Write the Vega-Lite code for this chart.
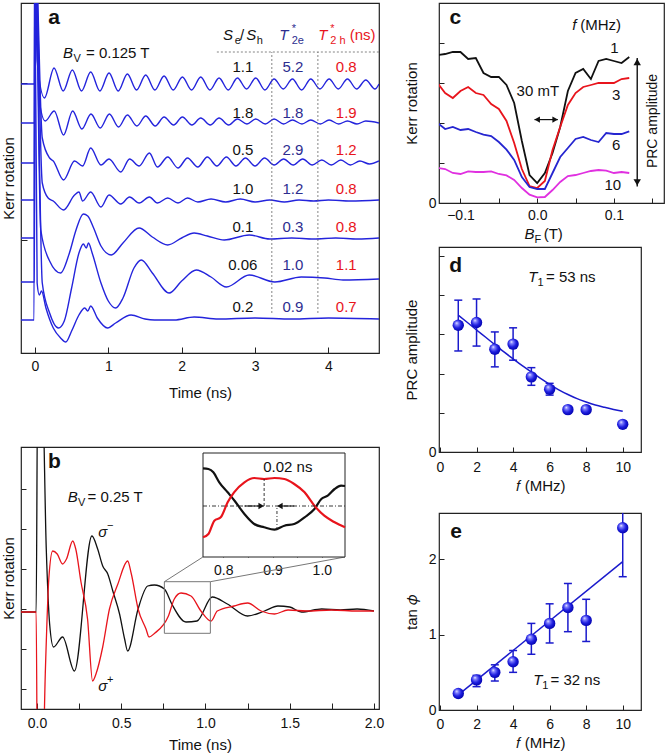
{
"$schema":"https://vega.github.io/schema/vega-lite/v6.json",
"padding":{"left":0,"top":2,"right":0,"bottom":0},
"config":{"font":"Liberation Sans","view":{"stroke":"#222","strokeWidth":1.2},
"axis":{"domain":false,"grid":false,"tickColor":"#222","tickWidth":1,"labelFont":"Liberation Sans","titleFont":"Liberation Sans","labelFontSize":14,"titleFontSize":15,"titleFontWeight":"normal","labelColor":"#111","titleColor":"#111"},
"text":{"font":"Liberation Sans"}},
"datasets":{
"a_tr":[
{"s":1,"x":-0.19,"y":269},{"s":1,"x":-0.006,"y":269},{"s":1,"x":0.0,"y":420},{"s":1,"x":0.03,"y":292},{"s":1,"x":0.13,"y":255},{"s":1,"x":0.26,"y":285},{"s":1,"x":0.385,"y":262},{"s":1,"x":0.51,"y":283},{"s":1,"x":0.635,"y":262},{"s":1,"x":0.76,"y":281},{"s":1,"x":0.885,"y":262},{"s":1,"x":1.01,"y":280},{"s":1,"x":1.135,"y":262},{"s":1,"x":1.26,"y":279},{"s":1,"x":1.385,"y":263},{"s":1,"x":1.51,"y":278},{"s":1,"x":1.635,"y":263},{"s":1,"x":1.76,"y":277},{"s":1,"x":1.885,"y":263},{"s":1,"x":2.01,"y":276},{"s":1,"x":2.135,"y":263},{"s":1,"x":2.26,"y":276},{"s":1,"x":2.385,"y":263},{"s":1,"x":2.51,"y":275},{"s":1,"x":2.635,"y":263},{"s":1,"x":2.76,"y":275},{"s":1,"x":2.885,"y":264},{"s":1,"x":3.01,"y":275},{"s":1,"x":3.135,"y":263},{"s":1,"x":3.26,"y":274},{"s":1,"x":3.385,"y":264},{"s":1,"x":3.51,"y":274},{"s":1,"x":3.635,"y":263},{"s":1,"x":3.76,"y":274},{"s":1,"x":3.885,"y":264},{"s":1,"x":4.01,"y":274},{"s":1,"x":4.135,"y":264},{"s":1,"x":4.26,"y":274},{"s":1,"x":4.385,"y":264},{"s":1,"x":4.51,"y":273},{"s":1,"x":4.635,"y":264},{"s":1,"x":4.69,"y":269},
{"s":2,"x":-0.19,"y":230},{"s":2,"x":-0.006,"y":230},{"s":2,"x":0.0,"y":420},{"s":2,"x":0.06,"y":252},{"s":2,"x":0.14,"y":232},{"s":2,"x":0.263,"y":242},{"s":2,"x":0.39,"y":218},{"s":2,"x":0.514,"y":242},{"s":2,"x":0.64,"y":224},{"s":2,"x":0.764,"y":239},{"s":2,"x":0.89,"y":225},{"s":2,"x":1.015,"y":239},{"s":2,"x":1.14,"y":226},{"s":2,"x":1.26,"y":238},{"s":2,"x":1.39,"y":227},{"s":2,"x":1.51,"y":237},{"s":2,"x":1.64,"y":227},{"s":2,"x":1.76,"y":236},{"s":2,"x":1.89,"y":228},{"s":2,"x":2.01,"y":236},{"s":2,"x":2.14,"y":228},{"s":2,"x":2.26,"y":235},{"s":2,"x":2.39,"y":228},{"s":2,"x":2.51,"y":235},{"s":2,"x":2.64,"y":228},{"s":2,"x":2.76,"y":234},{"s":2,"x":2.89,"y":229},{"s":2,"x":3.01,"y":234},{"s":2,"x":3.14,"y":229},{"s":2,"x":3.26,"y":234},{"s":2,"x":3.39,"y":229},{"s":2,"x":3.51,"y":233},{"s":2,"x":3.64,"y":229},{"s":2,"x":3.76,"y":233},{"s":2,"x":3.89,"y":229},{"s":2,"x":4.01,"y":233},{"s":2,"x":4.14,"y":229},{"s":2,"x":4.26,"y":232},{"s":2,"x":4.39,"y":229},{"s":2,"x":4.51,"y":232},{"s":2,"x":4.69,"y":230},
{"s":3,"x":-0.19,"y":190},{"s":3,"x":-0.006,"y":190},{"s":3,"x":0.0,"y":420},{"s":3,"x":0.1,"y":215},{"s":3,"x":0.2,"y":195},{"s":3,"x":0.25,"y":192},{"s":3,"x":0.39,"y":173},{"s":3,"x":0.54,"y":192},{"s":3,"x":0.65,"y":187},{"s":3,"x":0.76,"y":205},{"s":3,"x":0.9,"y":188},{"s":3,"x":1.01,"y":194},{"s":3,"x":1.17,"y":181},{"s":3,"x":1.29,"y":194},{"s":3,"x":1.42,"y":187},{"s":3,"x":1.56,"y":200},{"s":3,"x":1.67,"y":186},{"s":3,"x":1.81,"y":196},{"s":3,"x":1.95,"y":185},{"s":3,"x":2.08,"y":195},{"s":3,"x":2.22,"y":186},{"s":3,"x":2.35,"y":196},{"s":3,"x":2.48,"y":187},{"s":3,"x":2.61,"y":196},{"s":3,"x":2.74,"y":187},{"s":3,"x":2.87,"y":195},{"s":3,"x":3.0,"y":187},{"s":3,"x":3.13,"y":195},{"s":3,"x":3.26,"y":188},{"s":3,"x":3.39,"y":194},{"s":3,"x":3.52,"y":188},{"s":3,"x":3.65,"y":194},{"s":3,"x":3.78,"y":188},{"s":3,"x":3.91,"y":193},{"s":3,"x":4.04,"y":188},{"s":3,"x":4.17,"y":193},{"s":3,"x":4.3,"y":188},{"s":3,"x":4.43,"y":192},{"s":3,"x":4.56,"y":189},{"s":3,"x":4.69,"y":192},
{"s":4,"x":-0.19,"y":153},{"s":4,"x":-0.006,"y":153},{"s":4,"x":0.0,"y":420},{"s":4,"x":0.1,"y":170},{"s":4,"x":0.18,"y":155},{"s":4,"x":0.25,"y":152},{"s":4,"x":0.39,"y":143},{"s":4,"x":0.54,"y":158},{"s":4,"x":0.6,"y":161},{"s":4,"x":0.65,"y":152},{"s":4,"x":0.76,"y":161},{"s":4,"x":0.9,"y":146},{"s":4,"x":1.01,"y":158},{"s":4,"x":1.17,"y":149},{"s":4,"x":1.29,"y":156},{"s":4,"x":1.42,"y":150},{"s":4,"x":1.56,"y":156},{"s":4,"x":1.67,"y":150},{"s":4,"x":1.81,"y":155},{"s":4,"x":1.95,"y":150},{"s":4,"x":2.08,"y":155},{"s":4,"x":2.22,"y":151},{"s":4,"x":2.4,"y":154},{"s":4,"x":2.6,"y":151},{"s":4,"x":2.8,"y":154},{"s":4,"x":3.0,"y":151},{"s":4,"x":3.2,"y":153},{"s":4,"x":3.4,"y":151},{"s":4,"x":3.6,"y":153},{"s":4,"x":3.8,"y":152},{"s":4,"x":4.0,"y":153},{"s":4,"x":4.3,"y":152},{"s":4,"x":4.69,"y":153},
{"s":5,"x":-0.19,"y":115},{"s":5,"x":-0.006,"y":115},{"s":5,"x":0.0,"y":420},{"s":5,"x":0.08,"y":123},{"s":5,"x":0.2,"y":92},{"s":5,"x":0.35,"y":80},{"s":5,"x":0.47,"y":100},{"s":5,"x":0.56,"y":123},{"s":5,"x":0.66,"y":139},{"s":5,"x":0.72,"y":137},{"s":5,"x":0.8,"y":125},{"s":5,"x":0.9,"y":107},{"s":5,"x":1.04,"y":98},{"s":5,"x":1.2,"y":110},{"s":5,"x":1.42,"y":125},{"s":5,"x":1.6,"y":116},{"s":5,"x":1.81,"y":108},{"s":5,"x":2.0,"y":115},{"s":5,"x":2.17,"y":120},{"s":5,"x":2.35,"y":117},{"s":5,"x":2.58,"y":113},{"s":5,"x":2.92,"y":118},{"s":5,"x":3.2,"y":114},{"s":5,"x":3.5,"y":115},{"s":5,"x":3.8,"y":114},{"s":5,"x":4.1,"y":115},{"s":5,"x":4.4,"y":114},{"s":5,"x":4.69,"y":115},
{"s":6,"x":-0.19,"y":71},{"s":6,"x":-0.006,"y":71},{"s":6,"x":0.0,"y":420},{"s":6,"x":0.1,"y":70},{"s":6,"x":0.2,"y":40},{"s":6,"x":0.32,"y":25},{"s":6,"x":0.4,"y":32},{"s":6,"x":0.5,"y":65},{"s":6,"x":0.6,"y":100},{"s":6,"x":0.66,"y":109},{"s":6,"x":0.7,"y":105},{"s":6,"x":0.73,"y":110},{"s":6,"x":0.78,"y":100},{"s":6,"x":0.9,"y":70},{"s":6,"x":1.0,"y":52},{"s":6,"x":1.1,"y":45},{"s":6,"x":1.2,"y":55},{"s":6,"x":1.35,"y":85},{"s":6,"x":1.45,"y":93},{"s":6,"x":1.6,"y":80},{"s":6,"x":1.83,"y":60},{"s":6,"x":2.0,"y":72},{"s":6,"x":2.2,"y":83},{"s":6,"x":2.4,"y":76},{"s":6,"x":2.61,"y":66},{"s":6,"x":2.92,"y":78},{"s":6,"x":3.27,"y":71},{"s":6,"x":3.63,"y":76},{"s":6,"x":3.95,"y":75},{"s":6,"x":4.2,"y":73},{"s":6,"x":4.69,"y":74},
{"s":7,"x":-0.19,"y":33},{"s":7,"x":-0.012,"y":33},{"s":7,"x":-0.006,"y":420},{"s":7,"x":0.03,"y":70},{"s":7,"x":0.06,"y":58},{"s":7,"x":0.09,"y":62},{"s":7,"x":0.15,"y":45},{"s":7,"x":0.25,"y":25},{"s":7,"x":0.35,"y":15},{"s":7,"x":0.42,"y":11},{"s":7,"x":0.5,"y":22},{"s":7,"x":0.6,"y":38},{"s":7,"x":0.68,"y":45},{"s":7,"x":0.72,"y":42},{"s":7,"x":0.76,"y":47},{"s":7,"x":0.85,"y":35},{"s":7,"x":0.99,"y":25},{"s":7,"x":1.1,"y":30},{"s":7,"x":1.31,"y":38},{"s":7,"x":1.5,"y":34},{"s":7,"x":1.63,"y":33},{"s":7,"x":1.9,"y":33},{"s":7,"x":2.17,"y":36},{"s":7,"x":2.5,"y":34},{"s":7,"x":3.0,"y":35},{"s":7,"x":3.5,"y":34},{"s":7,"x":4.0,"y":35},{"s":7,"x":4.69,"y":34}
],
"a_tab":[
{"c":"k","x":2.834,"y":285.7,"tx":"1.1"},{"c":"b","x":3.516,"y":285.7,"tx":"5.2"},{"c":"r","x":4.243,"y":285.7,"tx":"0.8"},
{"c":"k","x":2.834,"y":240.3,"tx":"1.8"},{"c":"b","x":3.516,"y":240.3,"tx":"1.8"},{"c":"r","x":4.243,"y":240.3,"tx":"1.9"},
{"c":"k","x":2.834,"y":203,"tx":"0.5"},{"c":"b","x":3.516,"y":203,"tx":"2.9"},{"c":"r","x":4.243,"y":203,"tx":"1.2"},
{"c":"k","x":2.834,"y":163.7,"tx":"1.0"},{"c":"b","x":3.516,"y":163.7,"tx":"1.2"},{"c":"r","x":4.243,"y":163.7,"tx":"0.8"},
{"c":"k","x":2.834,"y":126.3,"tx":"0.1"},{"c":"b","x":3.516,"y":126.3,"tx":"0.3"},{"c":"r","x":4.243,"y":126.3,"tx":"0.8"},
{"c":"k","x":2.834,"y":88,"tx":"0.06"},{"c":"b","x":3.516,"y":88,"tx":"1.0"},{"c":"r","x":4.243,"y":88,"tx":"1.1"},
{"c":"k","x":2.834,"y":46.3,"tx":"0.2"},{"c":"b","x":3.516,"y":46.3,"tx":"0.9"},{"c":"r","x":4.243,"y":46.3,"tx":"0.7"}
],
"b_tr":[
{"p":"σ−","x":-0.095,"y":97},{"p":"σ−","x":-0.005,"y":97},{"p":"σ−","x":0.004,"y":330},{"p":"σ−","x":0.03,"y":330},{"p":"σ−","x":0.055,"y":160},{"p":"σ−","x":0.075,"y":85},{"p":"σ−","x":0.098,"y":62},{"p":"σ−","x":0.152,"y":72},{"p":"σ−","x":0.222,"y":38},{"p":"σ−","x":0.326,"y":173},{"p":"σ−","x":0.36,"y":160},{"p":"σ−","x":0.39,"y":143},{"p":"σ−","x":0.42,"y":135},{"p":"σ−","x":0.45,"y":118},{"p":"σ−","x":0.49,"y":95},{"p":"σ−","x":0.52,"y":70},{"p":"σ−","x":0.538,"y":58},{"p":"σ−","x":0.6,"y":100},{"p":"σ−","x":0.657,"y":123},{"p":"σ−","x":0.697,"y":124},{"p":"σ−","x":0.756,"y":120},{"p":"σ−","x":0.8,"y":105},{"p":"σ−","x":0.884,"y":87},{"p":"σ−","x":0.95,"y":88},{"p":"σ−","x":1.04,"y":112},{"p":"σ−","x":1.13,"y":105},{"p":"σ−","x":1.25,"y":93},{"p":"σ−","x":1.35,"y":98},{"p":"σ−","x":1.43,"y":103},{"p":"σ−","x":1.5,"y":102},{"p":"σ−","x":1.57,"y":97},{"p":"σ−","x":1.69,"y":100},{"p":"σ−","x":1.8,"y":99},{"p":"σ−","x":1.9,"y":100},{"p":"σ−","x":2.0,"y":98},
{"p":"σ+","x":-0.095,"y":97},{"p":"σ+","x":-0.005,"y":97},{"p":"σ+","x":0.004,"y":-120},{"p":"σ+","x":0.025,"y":-120},{"p":"σ+","x":0.05,"y":40},{"p":"σ+","x":0.07,"y":130},{"p":"σ+","x":0.093,"y":158},{"p":"σ+","x":0.12,"y":155},{"p":"σ+","x":0.152,"y":145},{"p":"σ+","x":0.175,"y":150},{"p":"σ+","x":0.212,"y":168},{"p":"σ+","x":0.23,"y":160},{"p":"σ+","x":0.261,"y":127},{"p":"σ+","x":0.3,"y":90},{"p":"σ+","x":0.33,"y":28},{"p":"σ+","x":0.35,"y":35},{"p":"σ+","x":0.39,"y":62},{"p":"σ+","x":0.43,"y":100},{"p":"σ+","x":0.48,"y":125},{"p":"σ+","x":0.538,"y":148},{"p":"σ+","x":0.56,"y":135},{"p":"σ+","x":0.6,"y":100},{"p":"σ+","x":0.647,"y":80},{"p":"σ+","x":0.665,"y":72},{"p":"σ+","x":0.7,"y":76},{"p":"σ+","x":0.78,"y":93},{"p":"σ+","x":0.815,"y":110},{"p":"σ+","x":0.855,"y":116},{"p":"σ+","x":0.914,"y":113},{"p":"σ+","x":0.973,"y":98},{"p":"σ+","x":1.033,"y":88},{"p":"σ+","x":1.07,"y":98},{"p":"σ+","x":1.17,"y":103},{"p":"σ+","x":1.25,"y":106},{"p":"σ+","x":1.33,"y":98},{"p":"σ+","x":1.41,"y":95},{"p":"σ+","x":1.49,"y":99},{"p":"σ+","x":1.6,"y":98},{"p":"σ+","x":1.75,"y":99},{"p":"σ+","x":1.9,"y":98},{"p":"σ+","x":2.0,"y":98}
],
"b_in":[
{"p":"σ−","x":0.759,"y":88.7},{"p":"σ−","x":0.77,"y":88},{"p":"σ−","x":0.78,"y":84.7},{"p":"σ−","x":0.792,"y":74.7},{"p":"σ−","x":0.809,"y":64.7},{"p":"σ−","x":0.823,"y":56.3},{"p":"σ−","x":0.843,"y":43},{"p":"σ−","x":0.863,"y":33},{"p":"σ−","x":0.883,"y":29.7},{"p":"σ−","x":0.904,"y":27.3},{"p":"σ−","x":0.924,"y":31.3},{"p":"σ−","x":0.944,"y":33},{"p":"σ−","x":0.965,"y":39.7},{"p":"σ−","x":0.985,"y":48},{"p":"σ−","x":0.999,"y":58},{"p":"σ−","x":1.012,"y":61.3},{"p":"σ−","x":1.026,"y":68},{"p":"σ−","x":1.039,"y":71.3},{"p":"σ−","x":1.047,"y":71},
{"p":"σ+","x":0.759,"y":19.7},{"p":"σ+","x":0.77,"y":23},{"p":"σ+","x":0.782,"y":36.3},{"p":"σ+","x":0.795,"y":39.7},{"p":"σ+","x":0.809,"y":54.7},{"p":"σ+","x":0.822,"y":64.7},{"p":"σ+","x":0.843,"y":74.7},{"p":"σ+","x":0.863,"y":79},{"p":"σ+","x":0.883,"y":78},{"p":"σ+","x":0.904,"y":79},{"p":"σ+","x":0.924,"y":78},{"p":"σ+","x":0.944,"y":73},{"p":"σ+","x":0.965,"y":64.7},{"p":"σ+","x":0.985,"y":51.3},{"p":"σ+","x":1.005,"y":41.3},{"p":"σ+","x":1.026,"y":34.7},{"p":"σ+","x":1.047,"y":29.7}
],
"c_tr":[
{"f":"1","x":-0.13,"y":7.4},{"f":"1","x":-0.12,"y":7.45},{"f":"1","x":-0.11,"y":7.55},{"f":"1","x":-0.1,"y":7.55},{"f":"1","x":-0.09,"y":7.2},{"f":"1","x":-0.08,"y":7.25},{"f":"1","x":-0.07,"y":6.5},{"f":"1","x":-0.06,"y":6.3},{"f":"1","x":-0.05,"y":6.3},{"f":"1","x":-0.04,"y":5.9},{"f":"1","x":-0.03,"y":5.0},{"f":"1","x":-0.02,"y":3.1},{"f":"1","x":-0.01,"y":1.4},{"f":"1","x":0.0,"y":1.0},{"f":"1","x":0.01,"y":1.5},{"f":"1","x":0.02,"y":2.5},{"f":"1","x":0.03,"y":3.8},{"f":"1","x":0.04,"y":5.6},{"f":"1","x":0.05,"y":6.5},{"f":"1","x":0.06,"y":6.7},{"f":"1","x":0.07,"y":6.2},{"f":"1","x":0.08,"y":7.1},{"f":"1","x":0.09,"y":7.2},{"f":"1","x":0.1,"y":7.1},{"f":"1","x":0.11,"y":7.0},{"f":"1","x":0.12,"y":7.3},
{"f":"3","x":-0.13,"y":6.0},{"f":"3","x":-0.12,"y":5.5},{"f":"3","x":-0.11,"y":5.25},{"f":"3","x":-0.1,"y":5.6},{"f":"3","x":-0.09,"y":5.8},{"f":"3","x":-0.08,"y":5.5},{"f":"3","x":-0.07,"y":5.4},{"f":"3","x":-0.06,"y":4.95},{"f":"3","x":-0.05,"y":4.7},{"f":"3","x":-0.04,"y":4.1},{"f":"3","x":-0.03,"y":3.0},{"f":"3","x":-0.02,"y":1.7},{"f":"3","x":-0.01,"y":0.85},{"f":"3","x":0.0,"y":0.75},{"f":"3","x":0.01,"y":1.1},{"f":"3","x":0.02,"y":2.65},{"f":"3","x":0.03,"y":3.8},{"f":"3","x":0.04,"y":4.9},{"f":"3","x":0.05,"y":5.5},{"f":"3","x":0.06,"y":5.8},{"f":"3","x":0.07,"y":5.9},{"f":"3","x":0.08,"y":6.0},{"f":"3","x":0.09,"y":6.0},{"f":"3","x":0.1,"y":6.0},{"f":"3","x":0.11,"y":6.2},{"f":"3","x":0.12,"y":6.25},
{"f":"6","x":-0.13,"y":4.0},{"f":"6","x":-0.12,"y":3.7},{"f":"6","x":-0.11,"y":3.8},{"f":"6","x":-0.1,"y":3.65},{"f":"6","x":-0.09,"y":3.7},{"f":"6","x":-0.08,"y":3.55},{"f":"6","x":-0.07,"y":3.42},{"f":"6","x":-0.06,"y":3.35},{"f":"6","x":-0.05,"y":3.05},{"f":"6","x":-0.04,"y":2.67},{"f":"6","x":-0.03,"y":2.15},{"f":"6","x":-0.02,"y":1.3},{"f":"6","x":-0.01,"y":0.8},{"f":"6","x":0.0,"y":0.7},{"f":"6","x":0.01,"y":0.7},{"f":"6","x":0.02,"y":1.5},{"f":"6","x":0.03,"y":2.3},{"f":"6","x":0.04,"y":2.75},{"f":"6","x":0.05,"y":3.2},{"f":"6","x":0.06,"y":3.3},{"f":"6","x":0.07,"y":3.15},{"f":"6","x":0.08,"y":3.05},{"f":"6","x":0.09,"y":3.5},{"f":"6","x":0.1,"y":3.45},{"f":"6","x":0.11,"y":3.45},{"f":"6","x":0.12,"y":3.58},
{"f":"10","x":-0.13,"y":1.75},{"f":"10","x":-0.12,"y":1.7},{"f":"10","x":-0.11,"y":1.5},{"f":"10","x":-0.1,"y":1.45},{"f":"10","x":-0.09,"y":1.58},{"f":"10","x":-0.08,"y":1.55},{"f":"10","x":-0.07,"y":1.55},{"f":"10","x":-0.06,"y":1.58},{"f":"10","x":-0.05,"y":1.45},{"f":"10","x":-0.04,"y":1.38},{"f":"10","x":-0.03,"y":1.15},{"f":"10","x":-0.02,"y":0.75},{"f":"10","x":-0.01,"y":0.42},{"f":"10","x":0.0,"y":0.28},{"f":"10","x":0.01,"y":0.3},{"f":"10","x":0.02,"y":0.65},{"f":"10","x":0.03,"y":1.05},{"f":"10","x":0.04,"y":1.35},{"f":"10","x":0.05,"y":1.4},{"f":"10","x":0.06,"y":1.5},{"f":"10","x":0.07,"y":1.6},{"f":"10","x":0.08,"y":1.65},{"f":"10","x":0.09,"y":1.62},{"f":"10","x":0.1,"y":1.5},{"f":"10","x":0.11,"y":1.55},{"f":"10","x":0.12,"y":1.5}
],
"d_fit":[{"x":1,"y":6.97},{"x":1.5,"y":6.6},{"x":2,"y":6.22},{"x":2.5,"y":5.85},{"x":3,"y":5.47},{"x":3.5,"y":5.1},{"x":4,"y":4.75},{"x":4.5,"y":4.4},{"x":5,"y":4.08},{"x":5.5,"y":3.75},{"x":6,"y":3.45},{"x":6.5,"y":3.17},{"x":7,"y":2.93},{"x":7.5,"y":2.72},{"x":8,"y":2.55},{"x":8.5,"y":2.4},{"x":9,"y":2.28},{"x":9.5,"y":2.17},{"x":10,"y":2.08}],
"d_pts":[{"x":1,"y":6.46},{"x":2,"y":6.6},{"x":3,"y":5.24},{"x":4,"y":5.5},{"x":5,"y":3.83},{"x":6,"y":3.2},{"x":7,"y":2.16},{"x":8,"y":2.16},{"x":10,"y":1.41}],
"d_err":[{"x":1,"y":5.15,"y2":7.74},{"x":2,"y":5.4,"y2":7.8},{"x":3,"y":4.34,"y2":6.12},{"x":4,"y":4.68,"y2":6.33},{"x":5,"y":3.4,"y2":4.3},{"x":6,"y":2.9,"y2":3.5}],
"e_fit":[{"x":1,"y":0.2},{"x":10,"y":1.97}],
"e_pts":[{"x":1,"y":0.22},{"x":2,"y":0.4},{"x":3,"y":0.5},{"x":4,"y":0.64},{"x":5,"y":0.94},{"x":6,"y":1.15},{"x":7,"y":1.36},{"x":8,"y":1.19},{"x":10,"y":2.42}],
"e_err":[{"x":2,"y":0.31,"y2":0.46},{"x":3,"y":0.385,"y2":0.6},{"x":4,"y":0.5,"y2":0.79},{"x":5,"y":0.74,"y2":1.15},{"x":6,"y":0.89,"y2":1.41},{"x":7,"y":1.04,"y2":1.68},{"x":8,"y":0.91,"y2":1.47},{"x":10,"y":1.77,"y2":3.07}]
},
"spacing":18,
"resolve":{"scale":{"color":"independent"}},
"hconcat":[
{"spacing":45,"resolve":{"scale":{"color":"independent"}},"vconcat":[
{"width":358,"height":350,
"layer":[
{"data":{"name":"a_tr"},"mark":{"type":"line","clip":true,"interpolate":"monotone","strokeWidth":1.4,"color":"#2424dc"},
"encoding":{"x":{"field":"x","type":"quantitative","scale":{"domain":[-0.19,4.69],"nice":false,"zero":false},"axis":{"title":"Time (ns)","values":[0,0.5,1,1.5,2,2.5,3,3.5,4,4.5],"format":".0f","labelExpr":"datum.value % 1 === 0 ? datum.label : ''","tickSize":-6,"labelPadding":12,"titlePadding":12}},
"y":{"field":"y","type":"quantitative","scale":{"domain":[0,350],"nice":false,"zero":false},"axis":{"title":"Kerr rotation","values":[113,270],"labels":false,"tickSize":-6,"titlePadding":4}},
"detail":{"field":"s","type":"nominal"}}},
{"data":{"values":[{"x":3.229,"y":40,"y2":301},{"x":3.857,"y":40,"y2":301}]},"mark":{"type":"rule","strokeDash":[2,2],"color":"#666","strokeWidth":0.8},
"encoding":{"x":{"field":"x","type":"quantitative","scale":{"domain":[-0.19,4.69],"nice":false,"zero":false}},"y":{"field":"y","type":"quantitative","scale":{"domain":[0,350],"nice":false,"zero":false}},"y2":{"field":"y2"}}},
{"data":{"values":[{"x":2.48,"x2":4.69,"y":301}]},"mark":{"type":"rule","strokeDash":[2,2],"color":"#666","strokeWidth":0.8},
"encoding":{"x":{"field":"x","type":"quantitative","scale":{"domain":[-0.19,4.69],"nice":false,"zero":false}},"x2":{"field":"x2"},"y":{"field":"y","type":"quantitative","scale":{"domain":[0,350],"nice":false,"zero":false}}}},
{"data":{"name":"a_tab"},"mark":{"type":"text","fontSize":15,"align":"center","baseline":"middle"},
"encoding":{"x":{"field":"x","type":"quantitative","scale":{"domain":[-0.19,4.69],"nice":false,"zero":false}},"y":{"field":"y","type":"quantitative","scale":{"domain":[0,350],"nice":false,"zero":false}},"text":{"field":"tx"},"color":{"field":"c","type":"nominal","scale":{"domain":["k","b","r"],"range":["#111111","#2d2d8f","#e8141c"]},"legend":null}}},
{"data":{"values":[{"c":"k","x":0.382,"y":299.7,"tx":"B"},{"c":"k","x":2.565,"y":318,"tx":"S"},{"c":"k","x":2.879,"y":318,"tx":"S"},{"c":"b","x":3.329,"y":318,"tx":"T"},{"c":"r","x":3.861,"y":318,"tx":"T"}]},"mark":{"type":"text","fontSize":15,"fontStyle":"italic","align":"left","baseline":"middle"},
"encoding":{"x":{"field":"x","type":"quantitative","scale":{"domain":[-0.19,4.69],"nice":false,"zero":false}},"y":{"field":"y","type":"quantitative","scale":{"domain":[0,350],"nice":false,"zero":false}},"text":{"field":"tx"},"color":{"field":"c","type":"nominal","scale":{"domain":["k","b","r"],"range":["#111111","#2d2d8f","#e8141c"]},"legend":null}}},
{"data":{"values":[{"c":"k","x":0.525,"y":299.7,"tx":"V"},{"c":"k","x":2.725,"y":318,"tx":"e"},{"c":"k","x":3.025,"y":318,"tx":"h"},{"c":"b","x":3.5,"y":318,"tx":"2e"},{"c":"r","x":4.025,"y":318,"tx":"2 h"}]},"mark":{"type":"text","fontSize":11,"align":"left","baseline":"middle","dy":6},
"encoding":{"x":{"field":"x","type":"quantitative","scale":{"domain":[-0.19,4.69],"nice":false,"zero":false}},"y":{"field":"y","type":"quantitative","scale":{"domain":[0,350],"nice":false,"zero":false}},"text":{"field":"tx"},"color":{"field":"c","type":"nominal","scale":{"domain":["k","b","r"],"range":["#111111","#2d2d8f","#e8141c"]},"legend":null}}},
{"data":{"values":[{"c":"b","x":3.5,"y":318,"tx":"*"},{"c":"r","x":4.025,"y":318,"tx":"*"}]},"mark":{"type":"text","fontSize":11,"align":"left","baseline":"middle","dy":-6},
"encoding":{"x":{"field":"x","type":"quantitative","scale":{"domain":[-0.19,4.69],"nice":false,"zero":false}},"y":{"field":"y","type":"quantitative","scale":{"domain":[0,350],"nice":false,"zero":false}},"text":{"field":"tx"},"color":{"field":"c","type":"nominal","scale":{"domain":["k","b","r"],"range":["#111111","#2d2d8f","#e8141c"]},"legend":null}}},
{"data":{"values":[{"c":"k","x":0.696,"y":299.7,"tx":"= 0.125 T"},{"c":"k","x":2.795,"y":318,"tx":"/"},{"c":"r","x":4.29,"y":318,"tx":"(ns)"}]},"mark":{"type":"text","fontSize":15,"align":"left","baseline":"middle"},
"encoding":{"x":{"field":"x","type":"quantitative","scale":{"domain":[-0.19,4.69],"nice":false,"zero":false}},"y":{"field":"y","type":"quantitative","scale":{"domain":[0,350],"nice":false,"zero":false}},"text":{"field":"tx"},"color":{"field":"c","type":"nominal","scale":{"domain":["k","b","r"],"range":["#111111","#2d2d8f","#e8141c"]},"legend":null}}},
{"data":{"values":[{"x":0.26,"y":335,"tx":"a"}]},"mark":{"type":"text","fontSize":21,"fontWeight":"bold","align":"center","baseline":"middle","color":"#111"},
"encoding":{"x":{"field":"x","type":"quantitative","scale":{"domain":[-0.19,4.69],"nice":false,"zero":false}},"y":{"field":"y","type":"quantitative","scale":{"domain":[0,350],"nice":false,"zero":false}},"text":{"field":"tx"}}}
]},
{"width":358,"height":262,
"resolve":{"scale":{"x":"independent","y":"independent"}},
"layer":[
{"layer":[
{"data":{"name":"b_tr"},"mark":{"type":"line","clip":true,"interpolate":"monotone","strokeWidth":1.3},
"encoding":{"x":{"field":"x","type":"quantitative","scale":{"domain":[-0.095,2.03],"nice":false,"zero":false},"axis":{"title":"Time (ns)","orient":"bottom","values":[0,0.25,0.5,0.75,1,1.25,1.5,1.75,2],"format":".1f","labelExpr":"datum.value % 0.5 === 0 ? datum.label : ''","tickSize":-6,"labelPadding":13,"titlePadding":7}},
"y":{"field":"y","type":"quantitative","scale":{"domain":[0,262],"nice":false,"zero":false},"axis":{"title":"Kerr rotation","orient":"left","values":[20,40,60,80,100,120,140,160,180,200,220,240],"labels":false,"tickSize":-5,"titlePadding":4}},
"color":{"field":"p","type":"nominal","scale":{"domain":["σ−","σ+"],"range":["#111111","#e8141c"]},"legend":null}}},
{"data":{"values":[{"x":0.756,"x2":1.029,"y":75.7,"y2":127.3}]},"mark":{"type":"rect","fillOpacity":0,"stroke":"#777","strokeWidth":1},
"encoding":{"x":{"field":"x","type":"quantitative","scale":{"domain":[-0.095,2.03],"nice":false,"zero":false}},"x2":{"field":"x2"},"y":{"field":"y","type":"quantitative","scale":{"domain":[0,262],"nice":false,"zero":false}},"y2":{"field":"y2"}}},
{"data":{"values":[{"x":0.756,"y":127.3,"x2":0.985,"y2":152},{"x":1.029,"y":127.3,"x2":1.828,"y2":152}]},"mark":{"type":"rule","color":"#777","strokeWidth":1},
"encoding":{"x":{"field":"x","type":"quantitative","scale":{"domain":[-0.095,2.03],"nice":false,"zero":false}},"x2":{"field":"x2"},"y":{"field":"y","type":"quantitative","scale":{"domain":[0,262],"nice":false,"zero":false}},"y2":{"field":"y2"}}},
{"data":{"values":[{"x":0.103,"y":246.7,"tx":"b"}]},"mark":{"type":"text","fontSize":21,"fontWeight":"bold","align":"center","baseline":"middle","color":"#111"},
"encoding":{"x":{"field":"x","type":"quantitative","scale":{"domain":[-0.095,2.03],"nice":false,"zero":false}},"y":{"field":"y","type":"quantitative","scale":{"domain":[0,262],"nice":false,"zero":false}},"text":{"field":"tx"}}},
{"data":{"values":[{"x":0.182,"y":211.7,"tx":"B"},{"x":0.364,"y":177.3,"tx":"σ"},{"x":0.364,"y":23.3,"tx":"σ"}]},"mark":{"type":"text","fontSize":15,"fontStyle":"italic","align":"left","baseline":"middle","color":"#111"},
"encoding":{"x":{"field":"x","type":"quantitative","scale":{"domain":[-0.095,2.03],"nice":false,"zero":false}},"y":{"field":"y","type":"quantitative","scale":{"domain":[0,262],"nice":false,"zero":false}},"text":{"field":"tx"}}},
{"data":{"values":[{"x":0.243,"y":211.7,"tx":"V"}]},"mark":{"type":"text","fontSize":11,"align":"left","baseline":"middle","dy":6,"color":"#111"},
"encoding":{"x":{"field":"x","type":"quantitative","scale":{"domain":[-0.095,2.03],"nice":false,"zero":false}},"y":{"field":"y","type":"quantitative","scale":{"domain":[0,262],"nice":false,"zero":false}},"text":{"field":"tx"}}},
{"data":{"values":[{"x":0.415,"y":177.3,"tx":"−"},{"x":0.415,"y":23.3,"tx":"+"}]},"mark":{"type":"text","fontSize":11,"align":"left","baseline":"middle","dy":-6,"color":"#111"},
"encoding":{"x":{"field":"x","type":"quantitative","scale":{"domain":[-0.095,2.03],"nice":false,"zero":false}},"y":{"field":"y","type":"quantitative","scale":{"domain":[0,262],"nice":false,"zero":false}},"text":{"field":"tx"}}},
{"data":{"values":[{"x":0.3,"y":211.7,"tx":"= 0.25 T"}]},"mark":{"type":"text","fontSize":15,"align":"left","baseline":"middle","color":"#111"},
"encoding":{"x":{"field":"x","type":"quantitative","scale":{"domain":[-0.095,2.03],"nice":false,"zero":false}},"y":{"field":"y","type":"quantitative","scale":{"domain":[0,262],"nice":false,"zero":false}},"text":{"field":"tx"}}}
]},
{"layer":[
{"data":{"values":[{"x":0.759,"x2":1.047,"y":0,"y2":104}]},"mark":{"type":"rect","fill":"#ffffff","stroke":"#222","strokeWidth":1},
"encoding":{"x":{"field":"x","type":"quantitative","scale":{"domain":[0.759,1.047],"range":[182,324],"nice":false,"zero":false},"axis":{"title":null,"orient":"bottom","offset":-152,"values":[0.8,0.85,0.9,0.95,1.0],"format":".1f","labelExpr":"abs(datum.value*10 - round(datum.value*10)) < 0.01 ? datum.label : ''","tickSize":-4,"labelPadding":10}},"x2":{"field":"x2"},
"y":{"field":"y","type":"quantitative","scale":{"domain":[0,104],"range":[110,6],"nice":false,"zero":false},"axis":{"title":null,"orient":"left","offset":-182,"values":[16,33,51,69,88],"labels":false,"tickSize":-4}},"y2":{"field":"y2"}}},
{"data":{"name":"b_in"},"mark":{"type":"line","interpolate":"monotone","strokeWidth":2.2},
"encoding":{"x":{"field":"x","type":"quantitative","scale":{"domain":[0.759,1.047],"range":[182,324],"nice":false,"zero":false}},"y":{"field":"y","type":"quantitative","scale":{"domain":[0,104],"range":[110,6],"nice":false,"zero":false}},"color":{"field":"p","type":"nominal","scale":{"domain":["σ−","σ+"],"range":["#111111","#e8141c"]},"legend":null}}},
{"data":{"values":[{"x":0.759,"x2":1.047,"y":51}]},"mark":{"type":"rule","strokeDash":[4,2,1,2],"color":"#222","strokeWidth":0.9},
"encoding":{"x":{"field":"x","type":"quantitative","scale":{"domain":[0.759,1.047],"range":[182,324],"nice":false,"zero":false}},"x2":{"field":"x2"},"y":{"field":"y","type":"quantitative","scale":{"domain":[0,104],"range":[110,6],"nice":false,"zero":false}}}},
{"data":{"values":[{"x":0.883,"y":51,"y2":78}]},"mark":{"type":"rule","strokeDash":[3,2],"color":"#222","strokeWidth":0.9},
"encoding":{"x":{"field":"x","type":"quantitative","scale":{"domain":[0.759,1.047],"range":[182,324],"nice":false,"zero":false}},"y":{"field":"y","type":"quantitative","scale":{"domain":[0,104],"range":[110,6],"nice":false,"zero":false}},"y2":{"field":"y2"}}},
{"data":{"values":[{"x":0.909,"y":27,"y2":51}]},"mark":{"type":"rule","strokeDash":[3,2,1,2],"color":"#222","strokeWidth":0.9},
"encoding":{"x":{"field":"x","type":"quantitative","scale":{"domain":[0.759,1.047],"range":[182,324],"nice":false,"zero":false}},"y":{"field":"y","type":"quantitative","scale":{"domain":[0,104],"range":[110,6],"nice":false,"zero":false}},"y2":{"field":"y2"}}},
{"data":{"values":[{"x":0.843,"x2":0.878,"y":51},{"x":0.944,"x2":0.914,"y":51}]},"mark":{"type":"rule","color":"#111","strokeWidth":1.1},
"encoding":{"x":{"field":"x","type":"quantitative","scale":{"domain":[0.759,1.047],"range":[182,324],"nice":false,"zero":false}},"x2":{"field":"x2"},"y":{"field":"y","type":"quantitative","scale":{"domain":[0,104],"range":[110,6],"nice":false,"zero":false}}}},
{"data":{"values":[{"x":0.877,"y":51}]},"mark":{"type":"point","shape":"triangle-right","filled":true,"size":40,"color":"#111","opacity":1},
"encoding":{"x":{"field":"x","type":"quantitative","scale":{"domain":[0.759,1.047],"range":[182,324],"nice":false,"zero":false}},"y":{"field":"y","type":"quantitative","scale":{"domain":[0,104],"range":[110,6],"nice":false,"zero":false}}}},
{"data":{"values":[{"x":0.915,"y":51}]},"mark":{"type":"point","shape":"triangle-left","filled":true,"size":40,"color":"#111","opacity":1},
"encoding":{"x":{"field":"x","type":"quantitative","scale":{"domain":[0.759,1.047],"range":[182,324],"nice":false,"zero":false}},"y":{"field":"y","type":"quantitative","scale":{"domain":[0,104],"range":[110,6],"nice":false,"zero":false}}}},
{"data":{"values":[{"x":0.931,"y":89.7,"tx":"0.02 ns"}]},"mark":{"type":"text","fontSize":15,"align":"center","baseline":"middle","color":"#111"},
"encoding":{"x":{"field":"x","type":"quantitative","scale":{"domain":[0.759,1.047],"range":[182,324],"nice":false,"zero":false}},"y":{"field":"y","type":"quantitative","scale":{"domain":[0,104],"range":[110,6],"nice":false,"zero":false}},"text":{"field":"tx"}}}
]}
]}
]},
{"spacing":0,"resolve":{"scale":{"color":"independent"}},"vconcat":[
{"width":225,"height":200,
"layer":[
{"data":{"name":"c_tr"},"mark":{"type":"line","clip":true,"strokeWidth":1.8},
"encoding":{"x":{"field":"x","type":"quantitative","scale":{"domain":[-0.128,0.1653],"nice":false,"zero":false},"axis":{"title":null,"values":[-0.1,-0.05,0,0.05,0.1,0.15],"format":".1f","labelExpr":"abs(datum.value*10 - round(datum.value*10)) < 0.01 ? datum.label : ''","tickSize":-5,"labelPadding":10}},
"y":{"field":"y","type":"quantitative","scale":{"domain":[0,10],"nice":false,"zero":false},"axis":{"title":"Kerr rotation","values":[0,1,2,3,4,5,6,7,8,9],"labelExpr":"datum.value === 0 ? '0' : ''","tickSize":-5,"labelPadding":8,"titlePadding":9}},
"color":{"field":"f","type":"nominal","sort":["10","6","3","1"],"scale":{"domain":["10","6","3","1"],"range":["#e030e0","#2525d0","#e8141c","#111111"]},"legend":null}}},
{"data":{"values":[{"x":0.1008,"y":7.75,"tx":"1"},{"x":0.103,"y":5.42,"tx":"3"},{"x":0.103,"y":2.92,"tx":"6"},{"x":0.0986,"y":0.92,"tx":"10"},{"x":0.0008,"y":5.58,"tx":"30 mT"}]},"mark":{"type":"text","fontSize":15,"align":"center","baseline":"middle","color":"#111"},
"encoding":{"x":{"field":"x","type":"quantitative","scale":{"domain":[-0.128,0.1653],"nice":false,"zero":false}},"y":{"field":"y","type":"quantitative","scale":{"domain":[0,10],"nice":false,"zero":false}},"text":{"field":"tx"}}},
{"data":{"values":[{"x":-0.1066,"y":9.25,"tx":"c"}]},"mark":{"type":"text","fontSize":21,"fontWeight":"bold","align":"center","baseline":"middle","color":"#111"},
"encoding":{"x":{"field":"x","type":"quantitative","scale":{"domain":[-0.128,0.1653],"nice":false,"zero":false}},"y":{"field":"y","type":"quantitative","scale":{"domain":[0,10],"nice":false,"zero":false}},"text":{"field":"tx"}}},
{"data":{"values":[{"x":0.0457,"y":8.92,"tx":"f"},{"x":-0.0166,"y":-1.55,"tx":"B"}]},"mark":{"type":"text","fontSize":15,"fontStyle":"italic","align":"left","baseline":"middle","color":"#111"},
"encoding":{"x":{"field":"x","type":"quantitative","scale":{"domain":[-0.128,0.1653],"nice":false,"zero":false}},"y":{"field":"y","type":"quantitative","scale":{"domain":[0,10],"nice":false,"zero":false}},"text":{"field":"tx"}}},
{"data":{"values":[{"x":0.056,"y":8.92,"tx":"(MHz)"},{"x":0.0085,"y":-1.55,"tx":"(T)"}]},"mark":{"type":"text","fontSize":15,"align":"left","baseline":"middle","color":"#111"},
"encoding":{"x":{"field":"x","type":"quantitative","scale":{"domain":[-0.128,0.1653],"nice":false,"zero":false}},"y":{"field":"y","type":"quantitative","scale":{"domain":[0,10],"nice":false,"zero":false}},"text":{"field":"tx"}}},
{"data":{"values":[{"x":-0.0035,"y":-1.55,"tx":"F"}]},"mark":{"type":"text","fontSize":11,"align":"left","baseline":"middle","dy":6,"color":"#111"},
"encoding":{"x":{"field":"x","type":"quantitative","scale":{"domain":[-0.128,0.1653],"nice":false,"zero":false}},"y":{"field":"y","type":"quantitative","scale":{"domain":[0,10],"nice":false,"zero":false}},"text":{"field":"tx"}}},
{"data":{"values":[{"x":-0.0035,"x2":0.0269,"y":4.17}]},"mark":{"type":"rule","color":"#111","strokeWidth":1.2},
"encoding":{"x":{"field":"x","type":"quantitative","scale":{"domain":[-0.128,0.1653],"nice":false,"zero":false}},"x2":{"field":"x2"},"y":{"field":"y","type":"quantitative","scale":{"domain":[0,10],"nice":false,"zero":false}}}},
{"data":{"values":[{"x":0.1304,"y":0.83,"y2":7.25}]},"mark":{"type":"rule","color":"#111","strokeWidth":1.4},
"encoding":{"x":{"field":"x","type":"quantitative","scale":{"domain":[-0.128,0.1653],"nice":false,"zero":false}},"y":{"field":"y","type":"quantitative","scale":{"domain":[0,10],"nice":false,"zero":false}},"y2":{"field":"y2"}}},
{"data":{"values":[{"x":0.0,"y":4.17}]},"mark":{"type":"point","shape":"triangle-left","filled":true,"size":40,"color":"#111","opacity":1},
"encoding":{"x":{"field":"x","type":"quantitative","scale":{"domain":[-0.128,0.1653],"nice":false,"zero":false}},"y":{"field":"y","type":"quantitative","scale":{"domain":[0,10],"nice":false,"zero":false}}}},
{"data":{"values":[{"x":0.0234,"y":4.17}]},"mark":{"type":"point","shape":"triangle-right","filled":true,"size":40,"color":"#111","opacity":1},
"encoding":{"x":{"field":"x","type":"quantitative","scale":{"domain":[-0.128,0.1653],"nice":false,"zero":false}},"y":{"field":"y","type":"quantitative","scale":{"domain":[0,10],"nice":false,"zero":false}}}},
{"data":{"values":[{"x":0.1304,"y":7.05}]},"mark":{"type":"point","shape":"triangle-up","filled":true,"size":55,"color":"#111","opacity":1},
"encoding":{"x":{"field":"x","type":"quantitative","scale":{"domain":[-0.128,0.1653],"nice":false,"zero":false}},"y":{"field":"y","type":"quantitative","scale":{"domain":[0,10],"nice":false,"zero":false}}}},
{"data":{"values":[{"x":0.1304,"y":1.03}]},"mark":{"type":"point","shape":"triangle-down","filled":true,"size":55,"color":"#111","opacity":1},
"encoding":{"x":{"field":"x","type":"quantitative","scale":{"domain":[-0.128,0.1653],"nice":false,"zero":false}},"y":{"field":"y","type":"quantitative","scale":{"domain":[0,10],"nice":false,"zero":false}}}},
{"data":{"values":[{"x":0.1505,"y":4.1,"tx":"PRC amplitude"}]},"mark":{"type":"text","fontSize":14,"angle":270,"align":"center","baseline":"middle","color":"#111"},
"encoding":{"x":{"field":"x","type":"quantitative","scale":{"domain":[-0.128,0.1653],"nice":false,"zero":false}},"y":{"field":"y","type":"quantitative","scale":{"domain":[0,10],"nice":false,"zero":false}},"text":{"field":"tx"}}}
]},
{"spacing":18,"vconcat":[
{"width":202,"height":205,
"layer":[
{"data":{"name":"d_fit"},"mark":{"type":"line","interpolate":"monotone","strokeWidth":1.5,"color":"#1a1acc"},
"encoding":{"x":{"field":"x","type":"quantitative","scale":{"domain":[-0.055,11],"nice":false,"zero":false},"axis":{"title":"𝑓 (MHz)","values":[0,1,2,3,4,5,6,7,8,9,10,11],"labelExpr":"datum.value % 2 === 0 ? datum.label : ''","tickSize":-5,"labelPadding":13,"titlePadding":4}},
"y":{"field":"y","type":"quantitative","scale":{"domain":[0,10.45],"nice":false,"zero":false},"axis":{"title":"PRC amplitude","values":[0,1,2,3,4,5,6,7,8,9,10],"labelExpr":"datum.value === 0 ? '0' : ''","tickSize":-5,"labelPadding":8,"titlePadding":9}}}},
{"data":{"name":"d_err"},"mark":{"type":"rule","strokeWidth":1.5,"color":"#1a1acc"},
"encoding":{"x":{"field":"x","type":"quantitative","scale":{"domain":[-0.055,11],"nice":false,"zero":false}},"y":{"field":"y","type":"quantitative","scale":{"domain":[0,10.45],"nice":false,"zero":false}},"y2":{"field":"y2"}}},
{"data":{"name":"d_err"},"mark":{"type":"point","shape":"stroke","size":64,"strokeWidth":1.5,"color":"#1a1acc","opacity":1},
"encoding":{"x":{"field":"x","type":"quantitative","scale":{"domain":[-0.055,11],"nice":false,"zero":false}},"y":{"field":"y","type":"quantitative","scale":{"domain":[0,10.45],"nice":false,"zero":false}}}},
{"data":{"name":"d_err"},"mark":{"type":"point","shape":"stroke","size":64,"strokeWidth":1.5,"color":"#1a1acc","opacity":1},
"encoding":{"x":{"field":"x","type":"quantitative","scale":{"domain":[-0.055,11],"nice":false,"zero":false}},"y":{"field":"y2","type":"quantitative","scale":{"domain":[0,10.45],"nice":false,"zero":false}}}},
{"data":{"name":"d_pts"},"mark":{"type":"point","filled":true,"size":130,"opacity":1,"strokeWidth":0,"fill":{"gradient":"radial","x1":0.35,"y1":0.3,"r1":0.0,"x2":0.45,"y2":0.45,"r2":0.6,"stops":[{"offset":0,"color":"#ffffff"},{"offset":0.2,"color":"#8888ff"},{"offset":0.6,"color":"#1e1ee0"},{"offset":1,"color":"#0000a8"}]}},
"encoding":{"x":{"field":"x","type":"quantitative","scale":{"domain":[-0.055,11],"nice":false,"zero":false}},"y":{"field":"y","type":"quantitative","scale":{"domain":[0,10.45],"nice":false,"zero":false}}}},
{"data":{"values":[{"x":0.85,"y":9.5,"tx":"d"}]},"mark":{"type":"text","fontSize":21,"fontWeight":"bold","align":"center","baseline":"middle","color":"#111"},
"encoding":{"x":{"field":"x","type":"quantitative","scale":{"domain":[-0.055,11],"nice":false,"zero":false}},"y":{"field":"y","type":"quantitative","scale":{"domain":[0,10.45],"nice":false,"zero":false}},"text":{"field":"tx"}}},
{"data":{"values":[{"x":4.83,"y":8.9,"tx":"T"}]},"mark":{"type":"text","fontSize":15,"fontStyle":"italic","align":"left","baseline":"middle","color":"#111"},
"encoding":{"x":{"field":"x","type":"quantitative","scale":{"domain":[-0.055,11],"nice":false,"zero":false}},"y":{"field":"y","type":"quantitative","scale":{"domain":[0,10.45],"nice":false,"zero":false}},"text":{"field":"tx"}}},
{"data":{"values":[{"x":5.33,"y":8.9,"tx":"1"}]},"mark":{"type":"text","fontSize":11,"align":"left","baseline":"middle","dy":6,"color":"#111"},
"encoding":{"x":{"field":"x","type":"quantitative","scale":{"domain":[-0.055,11],"nice":false,"zero":false}},"y":{"field":"y","type":"quantitative","scale":{"domain":[0,10.45],"nice":false,"zero":false}},"text":{"field":"tx"}}},
{"data":{"values":[{"x":5.8,"y":8.9,"tx":"= 53 ns"}]},"mark":{"type":"text","fontSize":15,"align":"left","baseline":"middle","color":"#111"},
"encoding":{"x":{"field":"x","type":"quantitative","scale":{"domain":[-0.055,11],"nice":false,"zero":false}},"y":{"field":"y","type":"quantitative","scale":{"domain":[0,10.45],"nice":false,"zero":false}},"text":{"field":"tx"}}}
]},
{"width":202,"height":197,
"layer":[
{"data":{"name":"e_fit"},"mark":{"type":"line","strokeWidth":1.5,"color":"#1a1acc"},
"encoding":{"x":{"field":"x","type":"quantitative","scale":{"domain":[-0.055,11],"nice":false,"zero":false},"axis":{"title":"𝑓 (MHz)","values":[0,1,2,3,4,5,6,7,8,9,10,11],"labelExpr":"datum.value % 2 === 0 ? datum.label : ''","tickSize":-5,"labelPadding":12,"titlePadding":4}},
"y":{"field":"y","type":"quantitative","scale":{"domain":[0,2.616],"nice":false,"zero":false},"axis":{"title":"tan 𝜙","values":[0,0.5,1,1.5,2,2.5],"format":".0f","labelExpr":"datum.value % 1 === 0 ? datum.label : ''","tickSize":-5,"labelPadding":8,"titlePadding":9}}}},
{"data":{"name":"e_err"},"mark":{"type":"rule","strokeWidth":1.5,"color":"#1a1acc","clip":true},
"encoding":{"x":{"field":"x","type":"quantitative","scale":{"domain":[-0.055,11],"nice":false,"zero":false}},"y":{"field":"y","type":"quantitative","scale":{"domain":[0,2.616],"nice":false,"zero":false}},"y2":{"field":"y2"}}},
{"data":{"name":"e_err"},"mark":{"type":"point","shape":"stroke","size":64,"strokeWidth":1.5,"color":"#1a1acc","opacity":1,"clip":true},
"encoding":{"x":{"field":"x","type":"quantitative","scale":{"domain":[-0.055,11],"nice":false,"zero":false}},"y":{"field":"y","type":"quantitative","scale":{"domain":[0,2.616],"nice":false,"zero":false}}}},
{"data":{"name":"e_err"},"mark":{"type":"point","shape":"stroke","size":64,"strokeWidth":1.5,"color":"#1a1acc","opacity":1,"clip":true},
"encoding":{"x":{"field":"x","type":"quantitative","scale":{"domain":[-0.055,11],"nice":false,"zero":false}},"y":{"field":"y2","type":"quantitative","scale":{"domain":[0,2.616],"nice":false,"zero":false}}}},
{"data":{"name":"e_pts"},"mark":{"type":"point","filled":true,"size":130,"opacity":1,"strokeWidth":0,"fill":{"gradient":"radial","x1":0.35,"y1":0.3,"r1":0.0,"x2":0.45,"y2":0.45,"r2":0.6,"stops":[{"offset":0,"color":"#ffffff"},{"offset":0.2,"color":"#8888ff"},{"offset":0.6,"color":"#1e1ee0"},{"offset":1,"color":"#0000a8"}]}},
"encoding":{"x":{"field":"x","type":"quantitative","scale":{"domain":[-0.055,11],"nice":false,"zero":false}},"y":{"field":"y","type":"quantitative","scale":{"domain":[0,2.616],"nice":false,"zero":false}}}},
{"data":{"values":[{"x":0.876,"y":2.368,"tx":"e"}]},"mark":{"type":"text","fontSize":21,"fontWeight":"bold","align":"center","baseline":"middle","color":"#111"},
"encoding":{"x":{"field":"x","type":"quantitative","scale":{"domain":[-0.055,11],"nice":false,"zero":false}},"y":{"field":"y","type":"quantitative","scale":{"domain":[0,2.616],"nice":false,"zero":false}},"text":{"field":"tx"}}},
{"data":{"values":[{"x":5.1,"y":0.4,"tx":"T"}]},"mark":{"type":"text","fontSize":15,"fontStyle":"italic","align":"left","baseline":"middle","color":"#111"},
"encoding":{"x":{"field":"x","type":"quantitative","scale":{"domain":[-0.055,11],"nice":false,"zero":false}},"y":{"field":"y","type":"quantitative","scale":{"domain":[0,2.616],"nice":false,"zero":false}},"text":{"field":"tx"}}},
{"data":{"values":[{"x":5.6,"y":0.4,"tx":"1"}]},"mark":{"type":"text","fontSize":11,"align":"left","baseline":"middle","dy":6,"color":"#111"},
"encoding":{"x":{"field":"x","type":"quantitative","scale":{"domain":[-0.055,11],"nice":false,"zero":false}},"y":{"field":"y","type":"quantitative","scale":{"domain":[0,2.616],"nice":false,"zero":false}},"text":{"field":"tx"}}},
{"data":{"values":[{"x":6.05,"y":0.4,"tx":"= 32 ns"}]},"mark":{"type":"text","fontSize":15,"align":"left","baseline":"middle","color":"#111"},
"encoding":{"x":{"field":"x","type":"quantitative","scale":{"domain":[-0.055,11],"nice":false,"zero":false}},"y":{"field":"y","type":"quantitative","scale":{"domain":[0,2.616],"nice":false,"zero":false}},"text":{"field":"tx"}}}
]}
]}
]}
]
}
